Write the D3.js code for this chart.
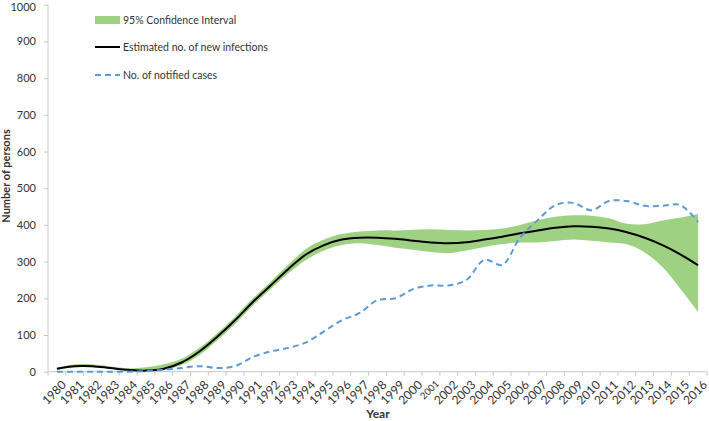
<!DOCTYPE html>
<html><head><meta charset="utf-8">
<script src="https://cdn.jsdelivr.net/npm/d3@7"></script>
<style>body{margin:0;background:#fff}svg{display:block}text{font-family:Lato,"Open Sans",sans-serif}</style>
</head><body><svg id="c" width="709" height="421"></svg>
<script>
const years = d3.range(1980, 2017).map(String);
const estimated = [8,15,15,10,5,3,8,25,55,95,140,190,235,280,320,345,360,365,365,362,357,352,350,353,360,368,377,385,392,396,395,390,380,365,345,320,290];
const ciLower = [5,12,12,8,3,2,5,18,45,85,130,180,225,268,305,330,345,350,345,338,332,326,323,330,340,348,352,352,356,360,357,352,347,325,285,226,163];
const ciUpper = [10,20,20,14,9,12,20,35,65,105,150,200,245,292,335,360,375,382,385,385,387,388,386,385,386,390,400,413,422,426,425,418,403,402,412,420,430];
const notified = [0,0,0,0,0,2,5,10,15,10,15,40,55,65,80,110,140,160,195,200,225,235,235,250,305,291,365,413,454,460,440,465,465,452,452,454,408];
const yTicks = d3.range(0, 1001, 100);
const legendItems = ["95% Confidence Interval","Estimated no. of new infections","No. of notified cases"];

const svg = d3.select("#c");
const L = 48, R = 707, T = 4.7, B = 371.7;
const x = d3.scaleBand().domain(years).range([L, R]).padding(0);
const cx = d => x(d) + x.bandwidth()/2;
const y = d3.scaleLinear().domain([0, 1000]).range([B, T]);
const grey = "#c8c8c8";
const txt = "#333";

// y axis
const ya = svg.append("g").attr("transform", `translate(${L},0)`)
  .call(d3.axisLeft(y).tickValues(yTicks).tickFormat(d3.format("d")).tickSize(4).tickPadding(8));
ya.select(".domain").attr("stroke", grey).attr("d", `M0,${B}V${T}`);
ya.selectAll(".tick line").attr("stroke", grey);
ya.selectAll(".tick text").attr("font-size", 11).attr("fill", txt).attr("font-family", "Lato, sans-serif")
  .attr("dy", d => d === 1000 ? "0.5em" : "0.32em");

// x axis
svg.append("line").attr("x1", L).attr("x2", R).attr("y1", B).attr("y2", B).attr("stroke", grey);
const bounds = years.map(d => x(d)).concat([R]);
svg.append("g").selectAll("line").data(bounds).join("line")
  .attr("x1", d => d).attr("x2", d => d).attr("y1", B).attr("y2", B + 4).attr("stroke", grey);
svg.append("g").selectAll("text").data(years).join("text")
  .attr("transform", d => `translate(${cx(d) + 4},${B + 8}) rotate(-45)`)
  .attr("text-anchor", "end").attr("dy", "0.7em")
  .attr("font-size", d => d === "2001" ? 9.5 : 12).attr("fill", txt)
  .text(d => d);

// axis titles
svg.append("text").attr("x", 378).attr("y", 418).attr("text-anchor", "middle")
  .attr("font-weight", "bold").attr("font-size", 12).attr("fill", txt).text("Year");
svg.append("text").attr("transform", "translate(10,176) rotate(-90)").attr("text-anchor", "middle")
  .attr("font-weight", "bold").attr("font-size", 11).attr("fill", txt).text("Number of persons");

// CI band
const curve = d3.curveCatmullRom.alpha(0.5);
svg.append("path").datum(years.map((d, i) => [d, ciLower[i], ciUpper[i]]))
  .attr("fill", "#9fd182")
  .attr("d", d3.area().x(d => cx(d[0])).y0(d => y(d[1])).y1(d => y(d[2])).curve(curve));

// estimated line
svg.append("path").datum(years.map((d, i) => [d, estimated[i]]))
  .attr("fill", "none").attr("stroke", "#000").attr("stroke-width", 2)
  .attr("d", d3.line().x(d => cx(d[0])).y(d => y(d[1])).curve(curve));

// notified line
svg.append("path").datum(years.map((d, i) => [d, notified[i]]))
  .attr("fill", "none").attr("stroke", "#5b9bd5").attr("stroke-width", 2).attr("stroke-dasharray", "6,4")
  .attr("d", d3.line().x(d => cx(d[0])).y(d => y(d[1])).curve(curve));

// legend
const lg = svg.append("g");
const ly = [20, 47, 75];
lg.append("rect").attr("x", 95).attr("y", ly[0] - 4).attr("width", 25).attr("height", 8).attr("fill", "#9fd182");
lg.append("line").attr("x1", 95).attr("x2", 120).attr("y1", ly[1]).attr("y2", ly[1]).attr("stroke", "#000").attr("stroke-width", 2);
lg.append("line").attr("x1", 95).attr("x2", 120).attr("y1", ly[2]).attr("y2", ly[2]).attr("stroke", "#5b9bd5").attr("stroke-width", 2).attr("stroke-dasharray", "6,4");
lg.selectAll("text").data(legendItems).join("text")
  .attr("x", 123).attr("y", (d, i) => ly[i]).attr("dy", "0.35em")
  .attr("font-size", 10.5).attr("fill", txt).text(d => d);
</script></body></html>
